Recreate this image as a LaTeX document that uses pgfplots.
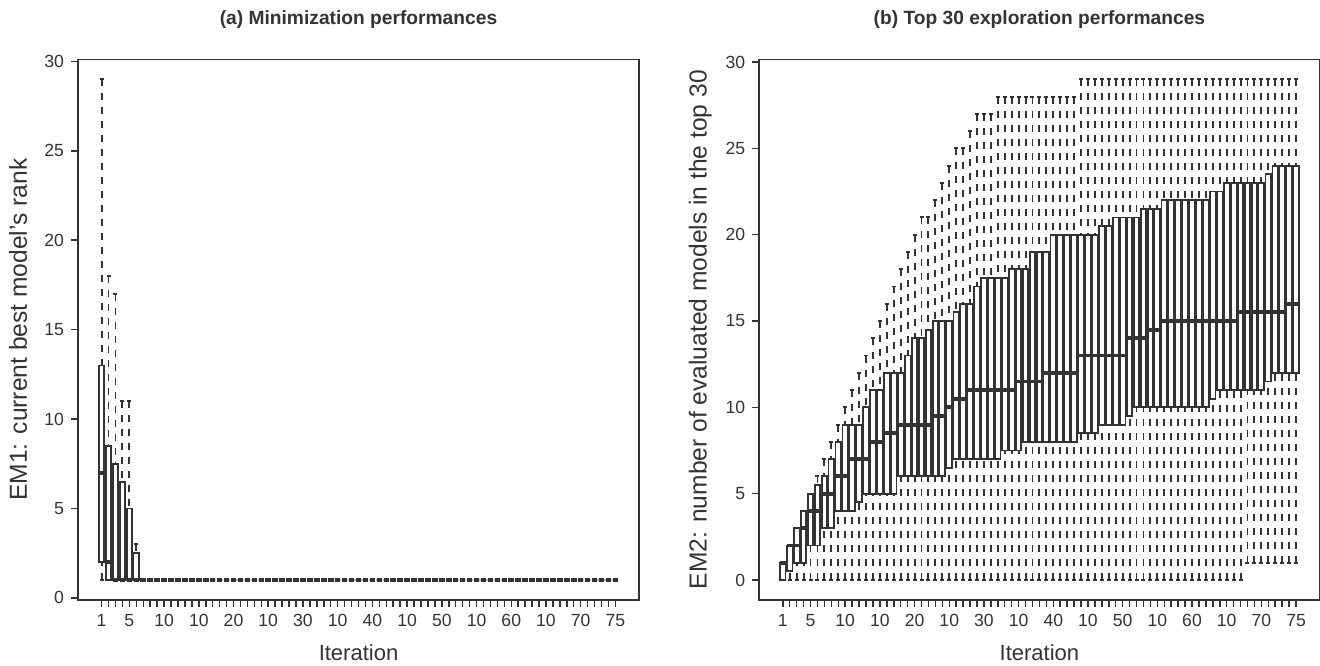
\documentclass[border=0pt]{standalone}
\usepackage{pgfplots}
\pgfplotsset{compat=1.18}
\usepgfplotslibrary{statistics}
\usepackage{fontspec}
\setmainfont{Liberation Sans}
\definecolor{dk}{HTML}{333333}
\pgfplotsset{
  rbox/.style={
    draw=dk, solid,
    /pgfplots/boxplot/draw direction=y,
    /pgfplots/boxplot/box extend=0.8,
    /pgfplots/boxplot/whisker extend=0.4,
    /pgfplots/boxplot/every box/.style={draw=dk, line width=0.9pt, fill=white, solid},
    /pgfplots/boxplot/every whisker/.style={draw=none},
    /pgfplots/boxplot/every median/.style={draw=dk, line width=1.9pt, solid},
  },
  rwhisk/.style={dk, line width=0.95pt, dash pattern=on 3.5pt off 3.5pt, unbounded coords=jump, forget plot},
  rstaple/.style={dk, only marks, mark=-, mark size=1pt, mark options={solid, line width=0.95pt}, forget plot},
  common/.style={
    scale only axis, anchor=south west,
    xmin=-2.4, xmax=78.4,
    boxplot/draw direction=y,
    axis line style={dk, line width=0.75pt},
    tick style={dk, line width=0.75pt},
    major tick length=3.5pt, tick align=outside,
    xtick pos=bottom, ytick pos=left,
    ytick={0,5,...,30},
    xtick={1,...,75}, xticklabels={},
    extra x ticks={1,5,10,15,20,25,30,35,40,45,50,55,60,65,70,75},
    extra x tick labels={1,5,10,10,20,10,30,10,40,10,50,10,60,10,70,75},
    extra x tick style={major tick length=3.5pt},
    /pgf/number format/assume math mode=true,
    ticklabel style={font=\fontsize{8.8}{10}\selectfont, text=dk},
    x label style={font=\fontsize{11}{12}\selectfont, text=dk, at={(axis description cs:0.5,-0.098)}, anchor=center},
    y label style={font=\fontsize{12.3}{14}\selectfont, text=dk},
    xlabel={Iteration},
    every axis title/.style={at={(axis description cs:0.5,1.073)}, anchor=center, font=\bfseries\fontsize{9.6}{11}\selectfont, text=dk},
  }
}
% \bx{position}{lower whisker}{lower quartile}{median}{upper quartile}{upper whisker}
\newcommand{\bx}[6]{%
\addplot[rbox, boxplot prepared={draw position=#1, lower whisker=#2, lower quartile=#3, median=#4, upper quartile=#5, upper whisker=#6}] coordinates {};
\addplot[rwhisk] coordinates {(#1,#6) (#1,#5) (#1,nan) (#1,#2) (#1,#3)};
\addplot[rstaple] coordinates {(#1,#6) (#1,#2)};
}
\begin{document}
\begin{tikzpicture}[x=1pt,y=1pt]
\useasboundingbox (0,0) rectangle (660,332.5);
\begin{axis}[common, at={(39pt,32.5pt)}, width=280.5pt, height=270.35pt,
  ymin=-0.12, ymax=30.12,
  title={(a) Minimization performances},
  ylabel={EM1: current best model's rank},
  y label style={at={(axis description cs:-0.107,0.5)}, anchor=center}]
\bx{1}{1}{2}{7}{13}{29}
\bx{2}{1}{1}{2}{8.5}{18}
\bx{3}{1}{1}{1}{7.5}{17}
\bx{4}{1}{1}{1}{6.5}{11}
\bx{5}{1}{1}{1}{5}{11}
\bx{6}{1}{1}{1}{2.5}{3}
\bx{7}{1}{1}{1}{1}{1}
\bx{8}{1}{1}{1}{1}{1}
\bx{9}{1}{1}{1}{1}{1}
\bx{10}{1}{1}{1}{1}{1}
\bx{11}{1}{1}{1}{1}{1}
\bx{12}{1}{1}{1}{1}{1}
\bx{13}{1}{1}{1}{1}{1}
\bx{14}{1}{1}{1}{1}{1}
\bx{15}{1}{1}{1}{1}{1}
\bx{16}{1}{1}{1}{1}{1}
\bx{17}{1}{1}{1}{1}{1}
\bx{18}{1}{1}{1}{1}{1}
\bx{19}{1}{1}{1}{1}{1}
\bx{20}{1}{1}{1}{1}{1}
\bx{21}{1}{1}{1}{1}{1}
\bx{22}{1}{1}{1}{1}{1}
\bx{23}{1}{1}{1}{1}{1}
\bx{24}{1}{1}{1}{1}{1}
\bx{25}{1}{1}{1}{1}{1}
\bx{26}{1}{1}{1}{1}{1}
\bx{27}{1}{1}{1}{1}{1}
\bx{28}{1}{1}{1}{1}{1}
\bx{29}{1}{1}{1}{1}{1}
\bx{30}{1}{1}{1}{1}{1}
\bx{31}{1}{1}{1}{1}{1}
\bx{32}{1}{1}{1}{1}{1}
\bx{33}{1}{1}{1}{1}{1}
\bx{34}{1}{1}{1}{1}{1}
\bx{35}{1}{1}{1}{1}{1}
\bx{36}{1}{1}{1}{1}{1}
\bx{37}{1}{1}{1}{1}{1}
\bx{38}{1}{1}{1}{1}{1}
\bx{39}{1}{1}{1}{1}{1}
\bx{40}{1}{1}{1}{1}{1}
\bx{41}{1}{1}{1}{1}{1}
\bx{42}{1}{1}{1}{1}{1}
\bx{43}{1}{1}{1}{1}{1}
\bx{44}{1}{1}{1}{1}{1}
\bx{45}{1}{1}{1}{1}{1}
\bx{46}{1}{1}{1}{1}{1}
\bx{47}{1}{1}{1}{1}{1}
\bx{48}{1}{1}{1}{1}{1}
\bx{49}{1}{1}{1}{1}{1}
\bx{50}{1}{1}{1}{1}{1}
\bx{51}{1}{1}{1}{1}{1}
\bx{52}{1}{1}{1}{1}{1}
\bx{53}{1}{1}{1}{1}{1}
\bx{54}{1}{1}{1}{1}{1}
\bx{55}{1}{1}{1}{1}{1}
\bx{56}{1}{1}{1}{1}{1}
\bx{57}{1}{1}{1}{1}{1}
\bx{58}{1}{1}{1}{1}{1}
\bx{59}{1}{1}{1}{1}{1}
\bx{60}{1}{1}{1}{1}{1}
\bx{61}{1}{1}{1}{1}{1}
\bx{62}{1}{1}{1}{1}{1}
\bx{63}{1}{1}{1}{1}{1}
\bx{64}{1}{1}{1}{1}{1}
\bx{65}{1}{1}{1}{1}{1}
\bx{66}{1}{1}{1}{1}{1}
\bx{67}{1}{1}{1}{1}{1}
\bx{68}{1}{1}{1}{1}{1}
\bx{69}{1}{1}{1}{1}{1}
\bx{70}{1}{1}{1}{1}{1}
\bx{71}{1}{1}{1}{1}{1}
\bx{72}{1}{1}{1}{1}{1}
\bx{73}{1}{1}{1}{1}{1}
\bx{74}{1}{1}{1}{1}{1}
\bx{75}{1}{1}{1}{1}{1}
\end{axis}
\begin{axis}[common, at={(379.6pt,32.5pt)}, width=280.2pt, height=270.35pt,
  ymin=-1.16, ymax=30.16,
  title={(b) Top 30 exploration performances},
  ylabel={EM2: number of evaluated models in the top 30},
  y label style={at={(axis description cs:-0.105,0.5)}, anchor=center}]
\bx{1}{0}{0}{1}{1}{1}
\bx{2}{0}{0.5}{2}{2}{2}
\bx{3}{0}{1}{2}{3}{3}
\bx{4}{0}{1}{3}{4}{4}
\bx{5}{0}{2}{4}{5}{5}
\bx{6}{0}{2}{4}{5.5}{6}
\bx{7}{0}{3}{5}{6}{7}
\bx{8}{0}{3}{5}{7}{8}
\bx{9}{0}{4}{6}{8}{9}
\bx{10}{0}{4}{6}{9}{10}
\bx{11}{0}{4}{7}{9}{11}
\bx{12}{0}{4.5}{7}{9}{12}
\bx{13}{0}{5}{7}{10}{13}
\bx{14}{0}{5}{8}{11}{14}
\bx{15}{0}{5}{8}{11}{15}
\bx{16}{0}{5}{8.5}{12}{16}
\bx{17}{0}{5}{8.5}{12}{17}
\bx{18}{0}{6}{9}{12}{18}
\bx{19}{0}{6}{9}{13}{19}
\bx{20}{0}{6}{9}{14}{20}
\bx{21}{0}{6}{9}{14}{21}
\bx{22}{0}{6}{9}{14.5}{21}
\bx{23}{0}{6}{9.5}{15}{22}
\bx{24}{0}{6}{9.5}{15}{23}
\bx{25}{0}{6.5}{10}{15}{24}
\bx{26}{0}{7}{10.5}{15.5}{25}
\bx{27}{0}{7}{10.5}{16}{25}
\bx{28}{0}{7}{11}{16}{26}
\bx{29}{0}{7}{11}{17}{27}
\bx{30}{0}{7}{11}{17.5}{27}
\bx{31}{0}{7}{11}{17.5}{27}
\bx{32}{0}{7}{11}{17.5}{28}
\bx{33}{0}{7.5}{11}{17.5}{28}
\bx{34}{0}{7.5}{11}{18}{28}
\bx{35}{0}{7.5}{11.5}{18}{28}
\bx{36}{0}{8}{11.5}{18}{28}
\bx{37}{0}{8}{11.5}{19}{28}
\bx{38}{0}{8}{11.5}{19}{28}
\bx{39}{0}{8}{12}{19}{28}
\bx{40}{0}{8}{12}{20}{28}
\bx{41}{0}{8}{12}{20}{28}
\bx{42}{0}{8}{12}{20}{28}
\bx{43}{0}{8}{12}{20}{28}
\bx{44}{0}{8.5}{13}{20}{29}
\bx{45}{0}{8.5}{13}{20}{29}
\bx{46}{0}{8.5}{13}{20}{29}
\bx{47}{0}{9}{13}{20.5}{29}
\bx{48}{0}{9}{13}{20.5}{29}
\bx{49}{0}{9}{13}{21}{29}
\bx{50}{0}{9}{13}{21}{29}
\bx{51}{0}{9.5}{14}{21}{29}
\bx{52}{0}{10}{14}{21}{29}
\bx{53}{0}{10}{14}{21.5}{29}
\bx{54}{0}{10}{14.5}{21.5}{29}
\bx{55}{0}{10}{14.5}{21.5}{29}
\bx{56}{0}{10}{15}{22}{29}
\bx{57}{0}{10}{15}{22}{29}
\bx{58}{0}{10}{15}{22}{29}
\bx{59}{0}{10}{15}{22}{29}
\bx{60}{0}{10}{15}{22}{29}
\bx{61}{0}{10}{15}{22}{29}
\bx{62}{0}{10}{15}{22}{29}
\bx{63}{0}{10.5}{15}{22.5}{29}
\bx{64}{0}{11}{15}{22.5}{29}
\bx{65}{0}{11}{15}{23}{29}
\bx{66}{0}{11}{15}{23}{29}
\bx{67}{0}{11}{15.5}{23}{29}
\bx{68}{1}{11}{15.5}{23}{29}
\bx{69}{1}{11}{15.5}{23}{29}
\bx{70}{1}{11}{15.5}{23}{29}
\bx{71}{1}{11.5}{15.5}{23.5}{29}
\bx{72}{1}{12}{15.5}{24}{29}
\bx{73}{1}{12}{15.5}{24}{29}
\bx{74}{1}{12}{16}{24}{29}
\bx{75}{1}{12}{16}{24}{29}
\end{axis}
\end{tikzpicture}
\end{document}
